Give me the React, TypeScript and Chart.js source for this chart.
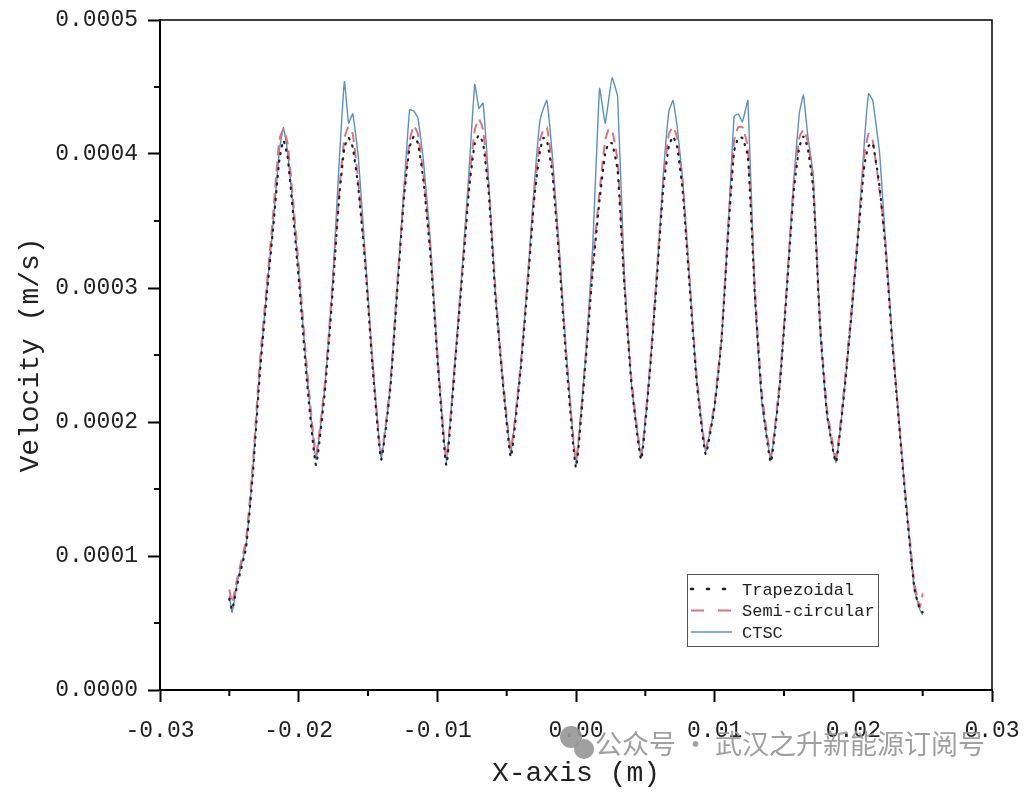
import React, { useEffect, useRef } from "react";
import { Chart, registerables } from "chart.js";
import type { Plugin } from "chart.js";

Chart.register(...registerables);

// x positions (m), shared by the three curves
const xPos: number[] = [
  -0.025, -0.0248, -0.0244, -0.0238, -0.0233, -0.0228, -0.0223, -0.0219, -0.0214,
  -0.0211, -0.0208, -0.0204, -0.0199, -0.0194,
  -0.01875, -0.0181, -0.0176, -0.0171, -0.0167, -0.0164, -0.0161, -0.0157, -0.0152, -0.0147,
  -0.01405, -0.0134, -0.0129, -0.0124, -0.012, -0.0117, -0.0114, -0.011, -0.0105, -0.01,
  -0.00935, -0.0087, -0.0082, -0.0077, -0.0073, -0.007, -0.0067, -0.0063, -0.0058, -0.0053,
  -0.0047, -0.004, -0.0035, -0.003, -0.0026, -0.00235, -0.0021, -0.0017, -0.0012, -0.0007,
  0, 0.0007, 0.0012, 0.0017, 0.0021, 0.00235, 0.0026, 0.003, 0.0035, 0.004,
  0.0047, 0.0053, 0.0058, 0.0063, 0.0067, 0.007, 0.0073, 0.0077, 0.0082, 0.0087,
  0.00935, 0.01, 0.0105, 0.011, 0.0114, 0.0117, 0.012, 0.0124, 0.0129, 0.0134,
  0.01405, 0.0147, 0.0152, 0.0157, 0.0161, 0.0164, 0.0167, 0.0171, 0.0176, 0.0181,
  0.01875, 0.0194, 0.0199, 0.0204, 0.0208, 0.0211, 0.0214,
  0.0219, 0.0223, 0.0228, 0.0233, 0.0238, 0.0244, 0.0248, 0.025,
];

const trapezoidal: number[] = [
  0.000068, 0.00006, 0.00008, 0.000106, 0.000162, 0.000236, 0.000295, 0.000338, 0.000395,
  0.00041, 0.000398, 0.000355, 0.000295, 0.00023,
  0.000168, 0.000224, 0.00029, 0.000365, 0.000405, 0.000412, 0.000405, 0.000375, 0.000318, 0.000245,
  0.000172, 0.000224, 0.000296, 0.000368, 0.000405, 0.000413, 0.000408, 0.00038, 0.000325, 0.000248,
  0.000168, 0.000246, 0.00031, 0.000375, 0.000408, 0.000414, 0.000408, 0.000372, 0.000292, 0.000232,
  0.000174, 0.000238, 0.0003, 0.000368, 0.000402, 0.000412, 0.00041, 0.000385, 0.00032, 0.000245,
  0.000166, 0.000246, 0.000312, 0.000366, 0.0004, 0.000408, 0.000408, 0.000388, 0.0003, 0.000228,
  0.000172, 0.000234, 0.000302, 0.000375, 0.000406, 0.000413, 0.000405, 0.000372, 0.0003, 0.00023,
  0.000176, 0.000212, 0.000262, 0.000345, 0.000402, 0.000412, 0.000412, 0.000398, 0.000295, 0.000218,
  0.00017, 0.000228, 0.000298, 0.000372, 0.000405, 0.000413, 0.000405, 0.000375, 0.000272, 0.000206,
  0.00017, 0.000228, 0.000285, 0.000345, 0.000392, 0.000406, 0.000408,
  0.000375, 0.000332, 0.00026, 0.000198, 0.000138, 0.000076, 0.00006, 0.000058,
];

const semiCircular: number[] = [
  0.000075, 0.000065, 0.000085, 0.000112, 0.00017, 0.000245, 0.000302, 0.000348, 0.00041,
  0.000418, 0.000408, 0.000365, 0.000305, 0.00024,
  0.000176, 0.00023, 0.000298, 0.00037, 0.000412, 0.00042, 0.000415, 0.00038, 0.00032, 0.000248,
  0.000176, 0.000228, 0.000302, 0.000372, 0.00041, 0.000421, 0.000415, 0.000385, 0.00033, 0.000252,
  0.000174, 0.000248, 0.000315, 0.00038, 0.000418, 0.000426, 0.000418, 0.000378, 0.000298, 0.000236,
  0.00018, 0.000242, 0.000305, 0.000372, 0.00041, 0.000418, 0.00042, 0.00039, 0.000325, 0.00025,
  0.000172, 0.00025, 0.000318, 0.000372, 0.00041, 0.000418, 0.000418, 0.000395, 0.000305, 0.000232,
  0.000176, 0.000238, 0.000308, 0.000382, 0.000415, 0.00042, 0.000412, 0.000378, 0.000305, 0.000235,
  0.00018, 0.000215, 0.000265, 0.00035, 0.00041, 0.00042, 0.00042, 0.000405, 0.0003, 0.000222,
  0.000175, 0.000232, 0.000302, 0.000378, 0.000412, 0.000418, 0.00041, 0.00038, 0.000275, 0.00021,
  0.000174, 0.000232, 0.000288, 0.00035, 0.0004, 0.000415, 0.00041,
  0.000372, 0.000335, 0.000262, 0.0002, 0.000142, 0.00008, 0.000062, 0.000072,
];

const ctsc: number[] = [
  0.00007, 0.000058, 0.000082, 0.000108, 0.000165, 0.00024, 0.000298, 0.000341, 0.000402,
  0.00042, 0.000402, 0.00036, 0.0003, 0.000235,
  0.000172, 0.000228, 0.000295, 0.00039, 0.000454, 0.000423, 0.00043, 0.000398, 0.000325, 0.00025,
  0.000173, 0.000225, 0.0003, 0.000375, 0.000433, 0.000432, 0.000427, 0.000395, 0.000335, 0.00025,
  0.00017, 0.00025, 0.000315, 0.00039, 0.000452, 0.000434, 0.000438, 0.00038, 0.000294, 0.000232,
  0.000177, 0.00024, 0.000305, 0.000378, 0.000425, 0.000434, 0.00044, 0.000398, 0.000328, 0.000252,
  0.000168, 0.00025, 0.00033, 0.000449, 0.000423, 0.00044, 0.000457, 0.000443, 0.000305, 0.000228,
  0.000174, 0.000235, 0.000305, 0.000385, 0.000432, 0.00044, 0.00042, 0.00038, 0.000305, 0.000232,
  0.000178, 0.000212, 0.000262, 0.00035, 0.000428, 0.00043, 0.000424, 0.00044, 0.000292, 0.000215,
  0.000172, 0.000228, 0.0003, 0.00038, 0.00043, 0.000444, 0.000415, 0.000385, 0.00027, 0.000205,
  0.00017, 0.000228, 0.000282, 0.000348, 0.00041, 0.000445, 0.00044,
  0.0004, 0.000338, 0.000264, 0.0002, 0.00014, 0.000075, 0.00006, 0.000056,
];

const seriesLabels = ["Trapezoidal", "Semi-circular", "CTSC"];
const xTitle = "X-axis (m)";
const yTitle = "Velocity (m/s)";
const watermark = "公众号 · 武汉之升新能源订阅号";

const MONO = '"Liberation Mono", "DejaVu Sans Mono", monospace';
const legendDashes: number[][] = [[2, 14], [13, 14], []];

const toPoints = (ys: number[]) => xPos.map((x, i) => ({ x, y: ys[i] }));

// minor ticks + top/right frame
const framePlugin: Plugin<"line"> = {
  id: "frame",
  afterDraw(chart) {
    const { ctx, chartArea, scales } = chart;
    const xs = scales.x;
    const ys = scales.y;
    ctx.save();
    ctx.strokeStyle = "#000";
    ctx.lineWidth = 2;
    for (let i = 0; i < xs.ticks.length - 1; i++) {
      const p = xs.getPixelForValue((xs.ticks[i].value + xs.ticks[i + 1].value) / 2);
      ctx.beginPath();
      ctx.moveTo(p, chartArea.bottom);
      ctx.lineTo(p, chartArea.bottom + 6);
      ctx.stroke();
    }
    for (let i = 0; i < ys.ticks.length - 1; i++) {
      const p = ys.getPixelForValue((ys.ticks[i].value + ys.ticks[i + 1].value) / 2);
      ctx.beginPath();
      ctx.moveTo(chartArea.left, p);
      ctx.lineTo(chartArea.left - 6, p);
      ctx.stroke();
    }
    ctx.lineWidth = 1.5;
    ctx.beginPath();
    ctx.moveTo(chartArea.left, chartArea.top);
    ctx.lineTo(chartArea.right, chartArea.top);
    ctx.lineTo(chartArea.right, chartArea.bottom);
    ctx.stroke();
    ctx.restore();
  },
};

const insetLegend: Plugin<"line"> = {
  id: "insetLegend",
  afterDraw(chart) {
    const { ctx, chartArea } = chart;
    const x0 = chartArea.right - 305;
    const y0 = chartArea.bottom - 116;
    ctx.save();
    ctx.fillStyle = "#fff";
    ctx.fillRect(x0, y0, 191, 72);
    ctx.strokeStyle = "#555";
    ctx.lineWidth = 1;
    ctx.strokeRect(x0 + 0.5, y0 + 0.5, 191, 72);
    ctx.font = `17px ${MONO}`;
    ctx.textBaseline = "middle";
    chart.data.datasets.forEach((ds, i) => {
      const y = y0 + 15 + i * 21.5;
      ctx.strokeStyle = ds.borderColor as string;
      ctx.lineWidth = i === 0 ? 2.5 : (ds.borderWidth as number) || 1;
      ctx.lineCap = i === 0 ? "round" : "butt";
      ctx.setLineDash(legendDashes[i]);
      ctx.beginPath();
      ctx.moveTo(x0 + 4, y);
      ctx.lineTo(x0 + 45, y);
      ctx.stroke();
      ctx.setLineDash([]);
      ctx.fillStyle = "#222";
      ctx.fillText(ds.label as string, x0 + 55, y + 1);
    });
    ctx.restore();
  },
};

const watermarkPlugin: Plugin<"line"> = {
  id: "watermark",
  afterDraw(chart) {
    const { ctx } = chart;
    ctx.save();
    ctx.fillStyle = "rgba(150,150,150,0.9)";
    ctx.beginPath();
    ctx.arc(571, 737, 11, 0, Math.PI * 2);
    ctx.fill();
    ctx.beginPath();
    ctx.arc(584, 749, 10, 0, Math.PI * 2);
    ctx.fill();
    ctx.font = '27px "Noto Sans CJK SC"';
    ctx.textBaseline = "middle";
    ctx.fillText(watermark, 595, 744);
    ctx.restore();
  },
};

const App: React.FC = () => {
  const canvasRef = useRef<HTMLCanvasElement | null>(null);

  useEffect(() => {
    document.body.style.margin = "0";
    if (!canvasRef.current) return;
    const tickFont = { family: MONO, size: 23 };
    const titleFont = { family: MONO, size: 28 };

    const chart = new Chart(canvasRef.current, {
      type: "line",
      data: {
        datasets: [
          {
            label: seriesLabels[0],
            data: toPoints(trapezoidal),
            borderColor: "#20202e",
            borderWidth: 2.2,
            borderDash: [1.2, 6.5],
            borderCapStyle: "round",
            pointRadius: 0,
            tension: 0.15,
          },
          {
            label: seriesLabels[1],
            data: toPoints(semiCircular),
            borderColor: "#db7480",
            borderWidth: 2,
            borderDash: [10, 6],
            pointRadius: 0,
            tension: 0.15,
          },
          {
            label: seriesLabels[2],
            data: toPoints(ctsc),
            borderColor: "#5b90c6",
            borderWidth: 1.4,
            pointRadius: 0,
            tension: 0.1,
          },
        ],
      },
      options: {
        responsive: false,
        animation: false,
        devicePixelRatio: 1,
        layout: { padding: { top: 20, right: 32, left: 0, bottom: 0 } },
        plugins: {
          legend: { display: false },
          tooltip: { enabled: false },
        },
        scales: {
          x: {
            type: "linear",
            min: -0.03,
            max: 0.03,
            ticks: {
              stepSize: 0.01,
              callback: (v) => Number(v).toFixed(2),
              font: tickFont,
              color: "#222",
              padding: 15,
              maxRotation: 0,
            },
            grid: {
              drawOnChartArea: false,
              drawTicks: true,
              tickLength: 12,
              tickWidth: 2,
              tickColor: "#000",
            },
            border: { display: true, color: "#000", width: 2 },
            title: {
              display: true,
              text: xTitle,
              font: titleFont,
              color: "#222",
              padding: { top: 0, bottom: 2 },
            },
            afterFit: (s) => {
              s.height = 102;
              s.paddingLeft = 0;
              s.paddingRight = 0;
            },
          },
          y: {
            type: "linear",
            min: 0,
            max: 0.0005,
            ticks: {
              stepSize: 0.0001,
              callback: (v) => Number(v).toFixed(4),
              font: tickFont,
              color: "#222",
              padding: 10,
            },
            grid: {
              drawOnChartArea: false,
              drawTicks: true,
              tickLength: 12,
              tickWidth: 2,
              tickColor: "#000",
            },
            border: { display: true, color: "#000", width: 2 },
            title: {
              display: true,
              text: yTitle,
              font: titleFont,
              color: "#222",
              padding: { top: 14, bottom: 0 },
            },
            afterFit: (s) => {
              s.width = 160;
              s.paddingTop = 0;
              s.paddingBottom = 0;
            },
          },
        },
      },
      plugins: [framePlugin, insetLegend, watermarkPlugin],
    });

    return () => {
      chart.destroy();
    };
  }, []);

  return (
    <div style={{ width: 1024, height: 792, background: "#fff" }}>
      <canvas ref={canvasRef} width={1024} height={792} />
    </div>
  );
};

export default App;
